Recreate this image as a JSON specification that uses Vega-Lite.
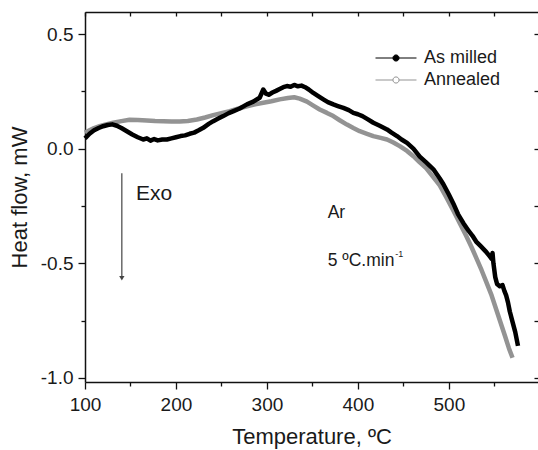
{
  "$schema": "https://vega.github.io/schema/vega-lite/v6.json",
  "width": 453,
  "height": 370,
  "autosize": {"type": "none"},
  "padding": {"left": 85, "top": 12, "right": 0, "bottom": 68},
  "background": "white",
  "config": {
    "view": {"stroke": null},
    "font": "Liberation Sans",
    "axis": {
      "domainColor": "#111111", "domainWidth": 1.5,
      "tickColor": "#111111", "tickWidth": 1.3,
      "labelColor": "#1a1a1a", "titleColor": "#1a1a1a",
      "labelFont": "Liberation Sans", "titleFont": "Liberation Sans",
      "grid": false, "labelFontSize": 19, "titleFontSize": 22, "titleFontWeight": "normal"
    }
  },
  "datasets": {
    "curves": [
      {"series": "Annealed", "T": 100, "v": 0.07},
      {"series": "Annealed", "T": 105, "v": 0.08},
      {"series": "Annealed", "T": 110, "v": 0.09},
      {"series": "Annealed", "T": 116, "v": 0.098},
      {"series": "Annealed", "T": 122, "v": 0.105},
      {"series": "Annealed", "T": 131, "v": 0.113},
      {"series": "Annealed", "T": 140, "v": 0.12},
      {"series": "Annealed", "T": 149, "v": 0.126},
      {"series": "Annealed", "T": 158, "v": 0.125},
      {"series": "Annealed", "T": 168, "v": 0.123},
      {"series": "Annealed", "T": 177, "v": 0.121},
      {"series": "Annealed", "T": 186, "v": 0.12},
      {"series": "Annealed", "T": 195, "v": 0.118},
      {"series": "Annealed", "T": 204, "v": 0.118},
      {"series": "Annealed", "T": 213, "v": 0.121},
      {"series": "Annealed", "T": 223, "v": 0.127},
      {"series": "Annealed", "T": 232, "v": 0.136},
      {"series": "Annealed", "T": 241, "v": 0.146},
      {"series": "Annealed", "T": 250, "v": 0.155},
      {"series": "Annealed", "T": 259, "v": 0.164},
      {"series": "Annealed", "T": 268, "v": 0.174},
      {"series": "Annealed", "T": 278, "v": 0.185},
      {"series": "Annealed", "T": 287, "v": 0.193},
      {"series": "Annealed", "T": 296, "v": 0.2},
      {"series": "Annealed", "T": 305, "v": 0.207},
      {"series": "Annealed", "T": 314, "v": 0.215},
      {"series": "Annealed", "T": 323, "v": 0.221},
      {"series": "Annealed", "T": 330, "v": 0.224},
      {"series": "Annealed", "T": 336, "v": 0.218},
      {"series": "Annealed", "T": 344, "v": 0.205},
      {"series": "Annealed", "T": 351, "v": 0.188},
      {"series": "Annealed", "T": 358, "v": 0.171},
      {"series": "Annealed", "T": 366, "v": 0.156},
      {"series": "Annealed", "T": 373, "v": 0.142},
      {"series": "Annealed", "T": 380, "v": 0.124},
      {"series": "Annealed", "T": 388, "v": 0.105},
      {"series": "Annealed", "T": 395, "v": 0.09},
      {"series": "Annealed", "T": 402, "v": 0.076},
      {"series": "Annealed", "T": 410, "v": 0.065},
      {"series": "Annealed", "T": 417, "v": 0.055},
      {"series": "Annealed", "T": 425, "v": 0.047},
      {"series": "Annealed", "T": 432, "v": 0.04},
      {"series": "Annealed", "T": 439, "v": 0.027},
      {"series": "Annealed", "T": 446, "v": 0.011},
      {"series": "Annealed", "T": 454, "v": -0.01},
      {"series": "Annealed", "T": 461, "v": -0.033},
      {"series": "Annealed", "T": 468, "v": -0.06},
      {"series": "Annealed", "T": 475, "v": -0.085},
      {"series": "Annealed", "T": 482, "v": -0.12},
      {"series": "Annealed", "T": 490, "v": -0.16},
      {"series": "Annealed", "T": 497, "v": -0.21},
      {"series": "Annealed", "T": 505, "v": -0.27},
      {"series": "Annealed", "T": 512, "v": -0.325},
      {"series": "Annealed", "T": 519, "v": -0.38},
      {"series": "Annealed", "T": 525, "v": -0.43},
      {"series": "Annealed", "T": 530, "v": -0.475},
      {"series": "Annealed", "T": 536, "v": -0.53},
      {"series": "Annealed", "T": 541, "v": -0.58},
      {"series": "Annealed", "T": 547, "v": -0.64},
      {"series": "Annealed", "T": 552, "v": -0.7},
      {"series": "Annealed", "T": 557, "v": -0.76},
      {"series": "Annealed", "T": 562, "v": -0.82},
      {"series": "Annealed", "T": 566, "v": -0.87},
      {"series": "Annealed", "T": 570, "v": -0.912},
      {"series": "As milled", "T": 100, "v": 0.045},
      {"series": "As milled", "T": 105, "v": 0.065},
      {"series": "As milled", "T": 110, "v": 0.08},
      {"series": "As milled", "T": 115, "v": 0.09},
      {"series": "As milled", "T": 120, "v": 0.098},
      {"series": "As milled", "T": 125, "v": 0.103},
      {"series": "As milled", "T": 130, "v": 0.106},
      {"series": "As milled", "T": 135, "v": 0.1},
      {"series": "As milled", "T": 140, "v": 0.09},
      {"series": "As milled", "T": 146, "v": 0.076},
      {"series": "As milled", "T": 152, "v": 0.062},
      {"series": "As milled", "T": 158, "v": 0.05},
      {"series": "As milled", "T": 164, "v": 0.04},
      {"series": "As milled", "T": 168, "v": 0.045},
      {"series": "As milled", "T": 172, "v": 0.035},
      {"series": "As milled", "T": 176, "v": 0.042},
      {"series": "As milled", "T": 180, "v": 0.036},
      {"series": "As milled", "T": 185, "v": 0.04},
      {"series": "As milled", "T": 190, "v": 0.04},
      {"series": "As milled", "T": 195, "v": 0.045},
      {"series": "As milled", "T": 200, "v": 0.05},
      {"series": "As milled", "T": 205, "v": 0.055},
      {"series": "As milled", "T": 210, "v": 0.058},
      {"series": "As milled", "T": 215, "v": 0.065},
      {"series": "As milled", "T": 220, "v": 0.07},
      {"series": "As milled", "T": 225, "v": 0.08},
      {"series": "As milled", "T": 230, "v": 0.091},
      {"series": "As milled", "T": 236, "v": 0.108},
      {"series": "As milled", "T": 241, "v": 0.12},
      {"series": "As milled", "T": 246, "v": 0.13},
      {"series": "As milled", "T": 252, "v": 0.142},
      {"series": "As milled", "T": 258, "v": 0.155},
      {"series": "As milled", "T": 264, "v": 0.165},
      {"series": "As milled", "T": 270, "v": 0.175},
      {"series": "As milled", "T": 278, "v": 0.193},
      {"series": "As milled", "T": 285, "v": 0.205},
      {"series": "As milled", "T": 292, "v": 0.222},
      {"series": "As milled", "T": 296, "v": 0.258},
      {"series": "As milled", "T": 299, "v": 0.24},
      {"series": "As milled", "T": 302, "v": 0.235},
      {"series": "As milled", "T": 306, "v": 0.245},
      {"series": "As milled", "T": 310, "v": 0.252},
      {"series": "As milled", "T": 314, "v": 0.26},
      {"series": "As milled", "T": 318, "v": 0.268},
      {"series": "As milled", "T": 322, "v": 0.273},
      {"series": "As milled", "T": 326, "v": 0.27},
      {"series": "As milled", "T": 330, "v": 0.278},
      {"series": "As milled", "T": 334, "v": 0.272},
      {"series": "As milled", "T": 338, "v": 0.275},
      {"series": "As milled", "T": 342, "v": 0.268},
      {"series": "As milled", "T": 346, "v": 0.258},
      {"series": "As milled", "T": 351, "v": 0.243},
      {"series": "As milled", "T": 356, "v": 0.23},
      {"series": "As milled", "T": 362, "v": 0.215},
      {"series": "As milled", "T": 367, "v": 0.203},
      {"series": "As milled", "T": 373, "v": 0.193},
      {"series": "As milled", "T": 378, "v": 0.186},
      {"series": "As milled", "T": 384, "v": 0.178},
      {"series": "As milled", "T": 390, "v": 0.168},
      {"series": "As milled", "T": 395, "v": 0.156},
      {"series": "As milled", "T": 400, "v": 0.15},
      {"series": "As milled", "T": 405, "v": 0.142},
      {"series": "As milled", "T": 411, "v": 0.128},
      {"series": "As milled", "T": 417, "v": 0.113},
      {"series": "As milled", "T": 424, "v": 0.1},
      {"series": "As milled", "T": 432, "v": 0.084},
      {"series": "As milled", "T": 437, "v": 0.07},
      {"series": "As milled", "T": 443, "v": 0.055},
      {"series": "As milled", "T": 448, "v": 0.04},
      {"series": "As milled", "T": 454, "v": 0.025},
      {"series": "As milled", "T": 461, "v": 0.0},
      {"series": "As milled", "T": 468, "v": -0.035},
      {"series": "As milled", "T": 475, "v": -0.06},
      {"series": "As milled", "T": 483, "v": -0.09},
      {"series": "As milled", "T": 490, "v": -0.13},
      {"series": "As milled", "T": 494, "v": -0.155},
      {"series": "As milled", "T": 500, "v": -0.2},
      {"series": "As milled", "T": 505, "v": -0.24},
      {"series": "As milled", "T": 510, "v": -0.285},
      {"series": "As milled", "T": 516, "v": -0.325},
      {"series": "As milled", "T": 522, "v": -0.36},
      {"series": "As milled", "T": 526, "v": -0.38},
      {"series": "As milled", "T": 530, "v": -0.405},
      {"series": "As milled", "T": 535, "v": -0.425},
      {"series": "As milled", "T": 541, "v": -0.45},
      {"series": "As milled", "T": 545, "v": -0.47},
      {"series": "As milled", "T": 547, "v": -0.48},
      {"series": "As milled", "T": 548, "v": -0.455},
      {"series": "As milled", "T": 549, "v": -0.5},
      {"series": "As milled", "T": 551, "v": -0.56},
      {"series": "As milled", "T": 553, "v": -0.59},
      {"series": "As milled", "T": 556, "v": -0.6},
      {"series": "As milled", "T": 559, "v": -0.595},
      {"series": "As milled", "T": 561, "v": -0.62},
      {"series": "As milled", "T": 563, "v": -0.64},
      {"series": "As milled", "T": 565, "v": -0.67},
      {"series": "As milled", "T": 567, "v": -0.71},
      {"series": "As milled", "T": 570, "v": -0.755},
      {"series": "As milled", "T": 573, "v": -0.8},
      {"series": "As milled", "T": 576, "v": -0.86}
    ]
  },
  "layer": [
    {
      "data": {"name": "curves"},
      "mark": {"type": "line", "strokeWidth": 4.5, "strokeJoin": "round"},
      "encoding": {
        "x": {
          "field": "T", "type": "quantitative",
          "scale": {"domain": [100, 598], "nice": false, "zero": false},
          "axis": {
            "orient": "bottom", "title": "Temperature, ºC",
            "values": [100, 150, 200, 250, 300, 350, 400, 450, 500, 550],
            "labelExpr": "datum.value % 100 === 0 ? datum.label : ''",
            "format": "d",
            "tickSize": {"condition": {"test": "datum.value % 100 === 0", "value": 7}, "value": 4},
            "labelPadding": 6, "titlePadding": 12, "labelOverlap": false, "labelFlush": false
          }
        },
        "y": {
          "field": "v", "type": "quantitative",
          "scale": {"domain": [-1.0175, 0.596], "nice": false, "zero": false},
          "axis": {
            "orient": "left", "title": "Heat flow, mW",
            "values": [-1, -0.75, -0.5, -0.25, 0, 0.25, 0.5],
            "labelExpr": "abs(datum.value % 0.5) < 0.000001 ? replace(format(datum.value, '.1f'), '\u2212', '-') : ''",
            "tickSize": {"condition": {"test": "abs(datum.value % 0.5) < 0.000001", "value": 7}, "value": 4},
            "labelPadding": 5, "titlePadding": 9, "labelOverlap": false, "labelFlush": false
          }
        },
        "color": {
          "field": "series", "type": "nominal",
          "scale": {"domain": ["As milled", "Annealed"], "range": ["#000000", "#939393"]},
          "legend": {
            "orient": "none", "legendX": 300, "legendY": 35, "title": null,
            "symbolType": "M-2,0H-0.3M0.3,0H2M0.3,0C0.3,0.1657 0.1657,0.3 0,0.3C-0.1657,0.3 -0.3,0.1657 -0.3,0C-0.3,-0.1657 -0.1657,-0.3 0,-0.3C0.1657,-0.3 0.3,-0.1657 0.3,0Z",
            "symbolSize": 420, "symbolStrokeWidth": 1,
            "labelFontSize": 18, "labelColor": "#1a1a1a", "labelFont": "Liberation Sans",
            "labelOffset": 17, "padding": 0, "rowPadding": 2,
            "encode": {
              "symbols": {
                "update": {
                  "fill": {"signal": "datum.value === 'As milled' ? '#000000' : '#ffffff'"},
                  "stroke": {"value": "#555555"},
                  "fillOpacity": {"value": 1}
                }
              }
            }
          }
        }
      }
    },
    {
      "data": {"values": [{"T": 156, "v": -0.222, "label": "Exo"}]},
      "mark": {"type": "text", "align": "left", "baseline": "alphabetic", "fontSize": 21, "color": "#1a1a1a"},
      "encoding": {
        "x": {
          "field": "T", "type": "quantitative",
          "axis": {
            "orient": "top", "labels": false, "title": null,
            "values": [100, 150, 200, 250, 300, 350, 400, 450, 500, 550],
            "tickSize": -4, "domain": true
          }
        },
        "y": {
          "field": "v", "type": "quantitative",
          "axis": {
            "orient": "right", "labels": false, "title": null,
            "values": [-1, -0.75, -0.5, -0.25, 0, 0.25, 0.5],
            "tickSize": -4, "domain": false
          }
        },
        "text": {"field": "label"}
      }
    },
    {
      "data": {"values": [{"T": 366.8, "v": -0.302, "label": "Ar"}, {"T": 366.8, "v": -0.512, "label": "5 ºC.min"}]},
      "mark": {"type": "text", "align": "left", "baseline": "alphabetic", "fontSize": 17.5, "color": "#1a1a1a"},
      "encoding": {
        "x": {"field": "T", "type": "quantitative", "axis": null},
        "y": {"field": "v", "type": "quantitative", "axis": null},
        "text": {"field": "label"}
      }
    },
    {
      "data": {"values": [{"T": 441, "v": -0.473, "label": "-1"}]},
      "mark": {"type": "text", "align": "left", "baseline": "alphabetic", "fontSize": 9, "color": "#1a1a1a"},
      "encoding": {
        "x": {"field": "T", "type": "quantitative", "axis": null},
        "y": {"field": "v", "type": "quantitative", "axis": null},
        "text": {"field": "label"}
      }
    },
    {
      "data": {"values": [{"T": 140.5, "v1": -0.107, "v2": -0.56}]},
      "mark": {"type": "rule", "color": "#444444", "strokeWidth": 1.2},
      "encoding": {
        "x": {"field": "T", "type": "quantitative", "axis": null},
        "y": {"field": "v1", "type": "quantitative", "axis": null},
        "y2": {"field": "v2"}
      }
    },
    {
      "data": {"values": [{"T": 140.5, "v": -0.565}]},
      "mark": {"type": "point", "shape": "triangle-down", "filled": true, "color": "#444444", "size": 28, "opacity": 1},
      "encoding": {
        "x": {"field": "T", "type": "quantitative", "axis": null},
        "y": {"field": "v", "type": "quantitative", "axis": null}
      }
    }
  ],
  "resolve": {"axis": {"x": "independent", "y": "independent"}}
}
